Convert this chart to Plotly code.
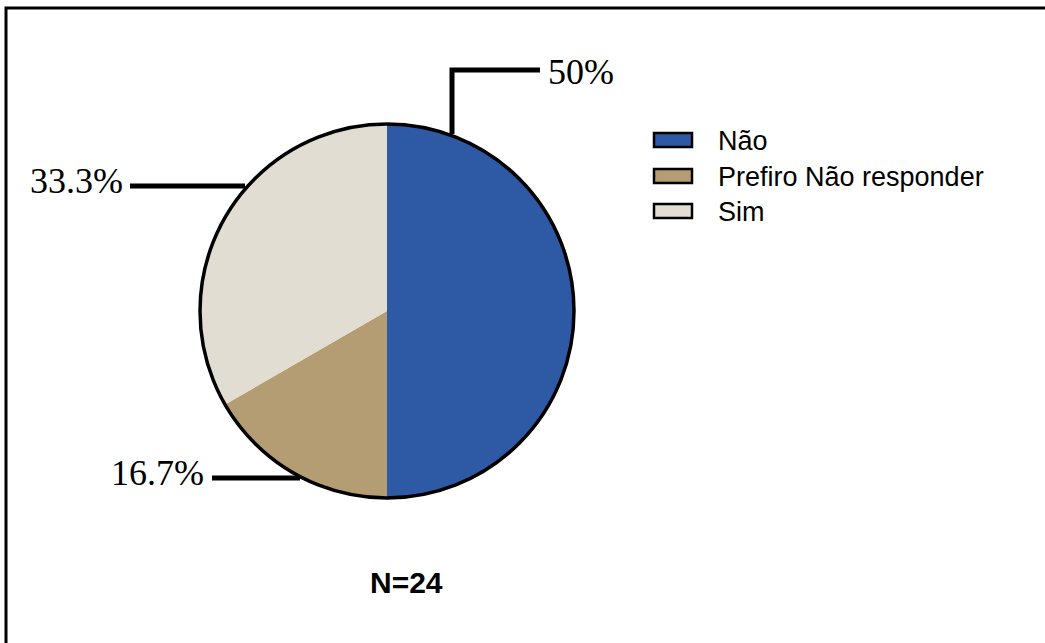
import plotly.graph_objects as go

# ---- data ----
labels = ["Não", "Prefiro Não responder", "Sim"]
counts = [12, 4, 8]
colors = ["#2E59A5", "#B49D72", "#E2DDD2"]
n_total = sum(counts)

W, H = 1045, 643

def px(x):
    return x / W

def py(y):
    return 1 - y / H

def pct_text(v):
    p = v / n_total * 100
    s = f"{p:.1f}".rstrip("0").rstrip(".")
    return s + "%"

cx, cy, r = 387, 311, 187

fig = go.Figure(go.Pie(
    labels=labels,
    values=counts,
    sort=False,
    direction="clockwise",
    rotation=0,
    marker=dict(colors=colors, line=dict(width=0)),
    textinfo="none",
    hoverinfo="label+percent",
    showlegend=False,
    domain=dict(x=[px(cx - r), px(cx + r)], y=[py(cy + r), py(cy - r)]),
))

shapes = []
annotations = []

# outer circle outline
shapes.append(dict(type="circle", xref="paper", yref="paper",
                   x0=px(cx - r), x1=px(cx + r), y0=py(cy + r), y1=py(cy - r),
                   line=dict(color="black", width=3.5), fillcolor="rgba(0,0,0,0)"))

# frame (cut off at right/bottom)
shapes.append(dict(type="rect", xref="paper", yref="paper",
                   x0=px(6), x1=1.02, y0=-0.02, y1=py(8),
                   line=dict(color="black", width=3), fillcolor="rgba(0,0,0,0)"))

serif = "Liberation Serif, Times New Roman, serif"
lw = 5
# Não
shapes.append(dict(type="path", xref="paper", yref="paper",
                   path=f"M {px(452)},{py(134)} L {px(452)},{py(70)} L {px(540)},{py(70)}",
                   line=dict(color="black", width=lw)))
annotations.append(dict(x=px(546), y=py(72), xref="paper", yref="paper",
                        text=pct_text(counts[0]), showarrow=False,
                        xanchor="left", yanchor="middle",
                        font=dict(family=serif, size=36, color="black")))
# Sim
shapes.append(dict(type="line", xref="paper", yref="paper",
                   x0=px(130), x1=px(245), y0=py(186), y1=py(186),
                   line=dict(color="black", width=lw)))
annotations.append(dict(x=px(125), y=py(181), xref="paper", yref="paper",
                        text=pct_text(counts[2]), showarrow=False,
                        xanchor="right", yanchor="middle",
                        font=dict(family=serif, size=36, color="black")))
# Prefiro
shapes.append(dict(type="line", xref="paper", yref="paper",
                   x0=px(212), x1=px(300), y0=py(478), y1=py(478),
                   line=dict(color="black", width=lw)))
annotations.append(dict(x=px(206), y=py(473), xref="paper", yref="paper",
                        text=pct_text(counts[1]), showarrow=False,
                        xanchor="right", yanchor="middle",
                        font=dict(family=serif, size=36, color="black")))

# manual legend
row_y = [140, 176, 211]
for lab, col, yy in zip(labels, colors, row_y):
    shapes.append(dict(type="rect", xref="paper", yref="paper",
                       x0=px(654), x1=px(692), y0=py(yy + 7), y1=py(yy - 7),
                       line=dict(color="black", width=2.5), fillcolor=col))
    annotations.append(dict(x=px(716), y=py(yy + 1), xref="paper", yref="paper",
                            text=lab, showarrow=False, xanchor="left", yanchor="middle",
                            font=dict(family="Liberation Sans, Arial, sans-serif", size=27, color="black")))

# N label
annotations.append(dict(x=px(406), y=py(582), xref="paper", yref="paper",
                        text=f"<b>N={n_total}</b>", showarrow=False,
                        xanchor="center", yanchor="middle",
                        font=dict(family="Liberation Sans, Arial, sans-serif", size=30, color="black")))

fig.update_layout(
    width=W, height=H,
    margin=dict(l=0, r=0, t=0, b=0),
    paper_bgcolor="white",
    plot_bgcolor="white",
    shapes=shapes,
    annotations=annotations,
    showlegend=False,
)

fig.write_html("out.html")
